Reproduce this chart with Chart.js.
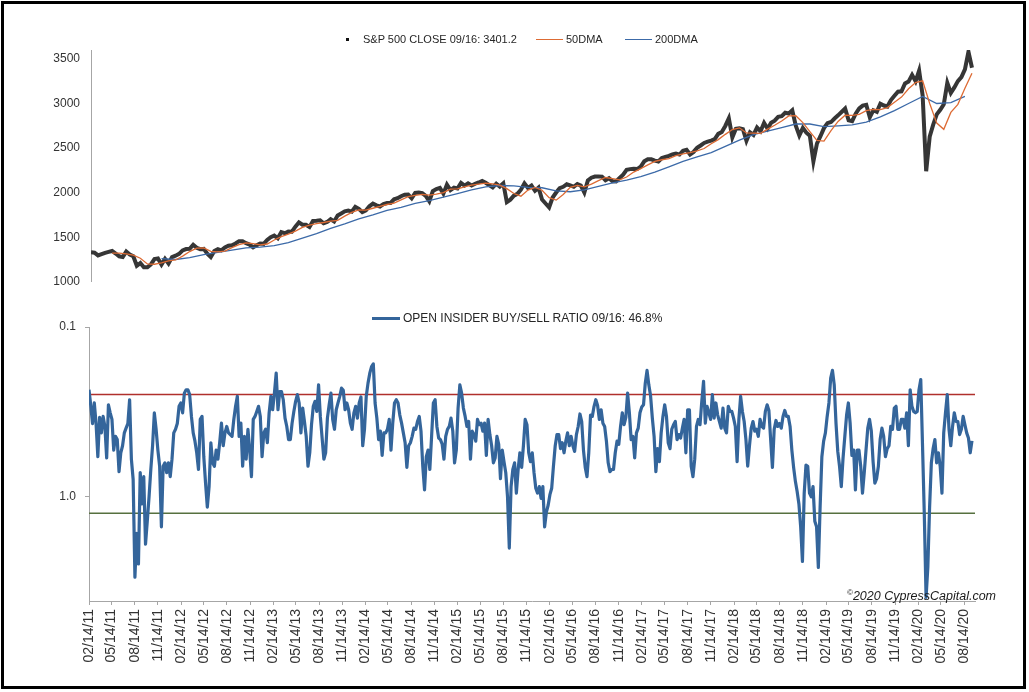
<!DOCTYPE html>
<html>
<head>
<meta charset="utf-8">
<script src="https://cdn.jsdelivr.net/npm/chart.js@4.4.0/dist/chart.umd.min.js"></script>
<style>
html,body{margin:0;padding:0;background:#fff;}
#wrap{position:relative;width:1029px;height:692px;overflow:hidden;background:#fff;font-family:"Liberation Sans",Arial,sans-serif;color:#262626;}
#frame{position:absolute;left:1px;top:1px;width:1019px;height:682px;border:3px solid #000;pointer-events:none;}
canvas{position:absolute;left:0;}
#cTop{top:0;}
#cBot{top:300px;}
.lg{position:absolute;white-space:nowrap;}
.t11{font-size:11px;line-height:13px;}
.t12{font-size:12px;line-height:14px;}
#copy{position:absolute;left:847px;top:589px;font-size:12.5px;font-style:italic;color:#1a1a1a;white-space:nowrap;}
#copy sup{font-size:8px;vertical-align:top;position:relative;top:-1px;}
</style>
</head>
<body>
<div id="wrap">
  <canvas id="cTop" width="1029" height="300"></canvas>
  <canvas id="cBot" width="1029" height="392"></canvas>

  <div class="lg" style="left:346px;top:38px;width:3px;height:2.5px;background:#111;"></div>
  <div class="lg t11" style="left:363px;top:32.5px;">S&amp;P 500 CLOSE 09/16: 3401.2</div>
  <div class="lg" style="left:536px;top:39px;width:27px;height:1.2px;background:#DD6B34;"></div>
  <div class="lg t11" style="left:566px;top:32.5px;">50DMA</div>
  <div class="lg" style="left:625px;top:39px;width:27px;height:1.2px;background:#3C6AA8;"></div>
  <div class="lg t11" style="left:655px;top:32.5px;">200DMA</div>

  <div class="lg" style="left:372px;top:316.5px;width:28px;height:3.2px;background:#34659B;"></div>
  <div class="lg t12" style="left:403px;top:311px;">OPEN INSIDER BUY/SELL RATIO 09/16: 46.8%</div>

  <div id="copy"><sup>©</sup>2020 CypressCapital.com</div>
  <div id="frame"></div>
</div>
<script>
// ---------- DATA ----------
const startDate = '02/14/11';          // first observation
const closeStepDays = 14;              // sampling of the S&P close readings
const fiftyStartDay = 84, fiftyStepDays = 28;
const twoHundredStartDay = 280, twoHundredStepDays = 56;
const insiderStepDays = 7;
const xAxisEndDay = 3512;

const spClose = [
 1332,1327,1296,1310,1324,1335,1346,1317,1286,1278,
 1339,1306,1287,1180,1210,1162,1162,1195,1254,1261,
 1193,1257,1205,1277,1293,1313,1352,1367,1371,1416,
 1382,1366,1369,1316,1278,1345,1365,1353,1385,1404,
 1410,1430,1456,1455,1433,1417,1386,1409,1430,1426,
 1470,1500,1518,1488,1557,1545,1563,1562,1618,1667,
 1640,1639,1614,1682,1685,1689,1656,1671,1701,1676,
 1744,1767,1791,1800,1786,1841,1819,1781,1800,1847,
 1877,1857,1845,1871,1884,1885,1925,1937,1960,1977,
 1978,1936,1997,2001,1994,1964,1904,2017,2041,2053,
 1989,2090,2028,2057,2046,2110,2079,2104,2080,2100,
 2114,2130,2111,2084,2058,2100,2068,2104,1893,1921,
 1966,1987,2033,2104,2053,2080,2021,2056,1923,1878,
 1835,1945,2001,2051,2066,2094,2081,2066,2097,2079,
 2001,2137,2168,2181,2182,2180,2139,2161,2127,2126,
 2165,2202,2256,2264,2269,2265,2293,2351,2375,2374,
 2359,2349,2388,2402,2412,2429,2439,2427,2470,2481,
 2428,2457,2503,2529,2557,2572,2584,2601,2659,2680,
 2748,2833,2619,2716,2721,2712,2582,2677,2648,2730,
 2689,2782,2717,2784,2807,2850,2857,2896,2888,2924,
 2750,2641,2726,2673,2637,2351,2550,2633,2724,2780,
 2792,2832,2867,2905,2943,2812,2802,2886,2945,2976,
 2985,2845,2924,2906,2997,2977,2966,3039,3087,3133,
 3136,3224,3246,3321,3249,3370,3090,2240,2627,2762,
 2878,2930,2992,3232,3118,3180,3251,3295,3382,3580,3401
];

const dma50 = [
 1322,1322,1313,1299,1264,1200,1197,1213,1234,1245,
 1288,1339,1378,1381,1342,1335,1345,1383,1417,1437,
 1429,1415,1424,
 1469,1507,1534,1569,1610,1636,1652,1665,1680,1690,
 1736,1778,1807,1805,1825,1845,1867,1882,1918,1955,
 1970,1981,1972,1984,2001,
 2040,2042,2064,2084,2095,2107,2099,2084,2045,1990,
 1960,2029,2058,2027,1943,1916,1980,2059,2081,2065,
 2096,2134,2170,2158,2144,
 2175,2231,2269,2311,2350,2369,2382,2414,2435,2449,
 2468,2495,2549,2595,2654,2708,2727,2670,2668,2665,
 2713,2756,2803,2860,2863,
 2786,2685,2587,2579,2696,2799,2868,2866,2878,2919,
 2935,2931,2954,3013,3072,3165,3235,3255,3000,2780,
 2710,2900,2990,3170,3340
];

const dma200 = [
 1260,1250,1270,1305,1330,1355,1380,1390,1405,1440,
 1490,1540,1600,1650,1705,1750,1800,1835,1880,1910,
 1950,1990,2030,2065,2080,2075,2060,2055,2020,2010,
 2030,2070,2110,2140,2180,2230,2290,2350,2400,2450,
 2520,2590,2650,2690,2730,2770,2770,2740,2750,2760,
 2790,2850,2920,3000,3080,3000,3010,3080
];

const insiderRatio = [
 0.234,0.29,0.37,0.28,0.37,0.58,0.34,0.42,0.336,0.385,
 0.59,0.287,0.32,0.35,0.53,0.44,0.46,0.71,0.55,0.50,
 0.42,0.394,0.37,0.268,0.60,0.79,2.97,1.64,2.48,0.72,
 1.10,0.76,1.9,1.39,1.0,0.69,0.50,0.32,0.40,0.53,
 0.66,1.5,0.66,0.63,0.72,0.63,0.76,0.60,0.42,0.40,
 0.37,0.293,0.28,0.32,0.245,0.234,0.234,0.25,0.336,0.42,
 0.47,0.55,0.69,0.35,0.336,0.58,0.83,1.15,0.87,0.48,
 0.63,0.66,0.53,0.60,0.48,0.368,0.50,0.42,0.385,0.42,
 0.43,0.44,0.35,0.293,0.256,0.44,0.368,0.66,0.44,0.60,
 0.40,0.53,0.76,0.35,0.336,0.314,0.293,0.336,0.58,0.42,
 0.40,0.48,0.32,0.256,0.307,0.245,0.187,0.307,0.24,0.24,
 0.268,0.344,0.385,0.46,0.46,0.368,0.314,0.274,0.25,0.28,
 0.42,0.30,0.36,0.44,0.66,0.55,0.376,0.293,0.274,0.314,
 0.219,0.336,0.45,0.60,0.55,0.344,0.287,0.245,0.35,0.40,
 0.307,0.28,0.256,0.229,0.236,0.307,0.28,0.307,0.368,0.40,
 0.32,0.293,0.344,0.28,0.258,0.50,0.40,0.256,0.214,0.187,
 0.171,0.165,0.28,0.344,0.46,0.41,0.57,0.42,0.42,0.40,
 0.35,0.53,0.368,0.28,0.268,0.28,0.33,0.368,0.42,0.48,
 0.67,0.50,0.48,0.44,0.394,0.40,0.36,0.336,0.41,0.66,
 0.91,0.58,0.53,0.69,0.44,0.28,0.268,0.385,0.45,0.46,
 0.49,0.60,0.44,0.40,0.385,0.344,0.41,0.63,0.53,0.30,
 0.219,0.245,0.30,0.336,0.385,0.36,0.60,0.41,0.43,0.47,
 0.35,0.376,0.368,0.41,0.368,0.57,0.35,0.43,0.50,0.63,
 0.59,0.44,0.49,0.78,0.53,0.62,0.72,1.0,2.0,0.87,
 0.69,0.63,0.95,0.69,0.55,0.67,0.50,0.35,0.376,0.55,
 0.62,0.55,0.72,0.89,0.95,0.87,1.02,0.87,1.50,1.23,
 1.12,0.97,0.89,0.66,0.50,0.43,0.43,0.52,0.48,0.55,
 0.47,0.42,0.50,0.44,0.50,0.54,0.43,0.385,0.325,0.36,
 0.53,0.67,0.76,0.55,0.33,0.336,0.293,0.268,0.29,0.35,
 0.307,0.368,0.385,0.47,0.63,0.71,0.69,0.69,0.55,0.47,
 0.49,0.385,0.32,0.376,0.34,0.245,0.32,0.46,0.44,0.59,
 0.42,0.394,0.32,0.296,0.287,0.214,0.18,0.219,0.254,0.344,
 0.44,0.71,0.52,0.62,0.42,0.336,0.287,0.336,0.48,0.52,
 0.40,0.376,0.36,0.46,0.43,0.45,0.394,0.35,0.55,0.307,
 0.307,0.66,0.76,0.60,0.385,0.35,0.376,0.274,0.209,0.368,
 0.293,0.32,0.35,0.25,0.344,0.28,0.33,0.36,0.394,0.30,
 0.394,0.42,0.293,0.314,0.314,0.344,0.385,0.62,0.35,0.256,
 0.314,0.36,0.46,0.66,0.50,0.394,0.36,0.41,0.40,0.44,
 0.35,0.385,0.394,0.314,0.287,0.31,0.46,0.67,0.40,0.355,
 0.385,0.37,0.394,0.336,0.31,0.336,0.336,0.385,0.53,0.67,
 0.81,0.93,1.10,1.50,2.4,0.95,0.65,0.66,0.95,1.0,
 0.87,1.39,1.50,2.6,1.15,0.58,0.47,0.42,0.336,0.28,
 0.20,0.18,0.219,0.368,0.54,0.66,0.87,0.59,0.44,0.33,
 0.28,0.368,0.57,0.53,0.91,0.53,0.53,0.66,0.95,0.72,
 0.53,0.394,0.35,0.41,0.62,0.83,0.78,0.66,0.46,0.394,
 0.44,0.58,0.52,0.50,0.385,0.40,0.30,0.293,0.40,0.40,
 0.35,0.35,0.394,0.32,0.50,0.234,0.293,0.314,0.32,0.314,
 0.234,0.204,0.50,1.26,3.9,2.6,1.15,0.63,0.52,0.46,
 0.63,0.55,0.66,0.95,0.42,0.32,0.25,0.40,0.50,0.385,
 0.32,0.36,0.36,0.43,0.40,0.336,0.376,0.42,0.45,0.55,0.468
];

const upperBand = 0.25;   // red reference line
const lowerBand = 1.25;   // green reference line

const topYTicks = [1000,1500,2000,2500,3000,3500];
const topYMin = 1000, topYMax = 3600;
const botYTicks = [0.1, 1.0];
const botYMin = 0.1, botYMax = 4.1;

const xTickLabels = [
 '02/14/11','05/14/11','08/14/11','11/14/11',
 '02/14/12','05/14/12','08/14/12','11/14/12',
 '02/14/13','05/14/13','08/14/13','11/14/13',
 '02/14/14','05/14/14','08/14/14','11/14/14',
 '02/14/15','05/14/15','08/14/15','11/14/15',
 '02/14/16','05/14/16','08/14/16','11/14/16',
 '02/14/17','05/14/17','08/14/17','11/14/17',
 '02/14/18','05/14/18','08/14/18','11/14/18',
 '02/14/19','05/14/19','08/14/19','11/14/19',
 '02/14/20','05/14/20','08/14/20'
];

// ---------- HELPERS ----------
function utcOf(label){ const [m,d,y] = label.split('/').map(Number); return Date.UTC(2000+y, m-1, d); }
const start = utcOf(startDate);
function dayOf(label){ return Math.round((utcOf(label) - start) / 86400000); }
const tickDays = xTickLabels.map(dayOf);
function pts(firstDay, step, vals){ return vals.map((v,k) => ({x: firstDay + k*step, y: v})); }

Chart.defaults.font.family = '"Liberation Sans", Arial, sans-serif';
Chart.defaults.color = '#333';

const axisGray = '#a6a6a6';

// ---------- TOP CHART ----------
new Chart(document.getElementById('cTop'), {
  type: 'line',
  data: { datasets: [
    { label:'50DMA', data: pts(fiftyStartDay, fiftyStepDays, dma50), borderColor:'#DD6B34', borderWidth:1.3, pointRadius:0, order:1 },
    { label:'200DMA', data: pts(twoHundredStartDay, twoHundredStepDays, dma200), borderColor:'#3C6AA8', borderWidth:1.3, pointRadius:0, order:1 },
    { label:'S&P 500 CLOSE', data: pts(0, closeStepDays, spClose), borderColor:'#363636', borderWidth:4, pointRadius:0, order:2 }
  ]},
  options: {
    responsive:false, animation:false, devicePixelRatio:1, events:[],
    layout:{ padding:{ left:0, right:54, top:50, bottom:12 } },
    plugins:{ legend:{display:false}, tooltip:{enabled:false} },
    scales:{
      x:{ type:'linear', min:0, max:xAxisEndDay, display:false },
      y:{ type:'linear', min:topYMin, max:topYMax,
          afterFit: s => { s.width = 91; },
          afterBuildTicks: s => { s.ticks = topYTicks.map(v => ({value:v})); },
          ticks:{ padding:11, font:{size:12}, color:'#333', callback: v => String(v) },
          grid:{ display:false, drawTicks:false, tickLength:0 },
          border:{ display:true, color:axisGray, width:1 } }
    }
  }
});

// ---------- BOTTOM CHART ----------
new Chart(document.getElementById('cBot'), {
  type: 'line',
  data: { datasets: [
    { label:'OPEN INSIDER BUY/SELL RATIO', data: pts(0, insiderStepDays, insiderRatio), borderColor:'#34659B', borderWidth:3.2, pointRadius:0, order:0, borderJoinStyle:'round' },
    { label:'upper', data: [{x:0,y:upperBand},{x:xAxisEndDay,y:upperBand}], borderColor:'#B0302C', borderWidth:1.5, pointRadius:0, order:1 },
    { label:'lower', data: [{x:0,y:lowerBand},{x:xAxisEndDay,y:lowerBand}], borderColor:'#56703F', borderWidth:1.5, pointRadius:0, order:1 }
  ]},
  options: {
    responsive:false, animation:false, devicePixelRatio:1, events:[],
    layout:{ padding:{ left:0, right:54, top:27, bottom:0 } },
    plugins:{ legend:{display:false}, tooltip:{enabled:false} },
    scales:{
      x:{ type:'linear', min:0, max:xAxisEndDay,
          afterFit: s => { s.height = 91; },
          afterBuildTicks: s => { s.ticks = tickDays.map(v => ({value:v})); },
          ticks:{ autoSkip:false, minRotation:90, maxRotation:90, padding:4, font:{size:14}, color:'#333',
                  callback: (v, i) => xTickLabels[i] },
          grid:{ drawOnChartArea:false, drawTicks:true, tickLength:4, color:axisGray },
          border:{ display:true, color:axisGray, width:1 } },
      y:{ type:'logarithmic', reverse:true, min:botYMin, max:botYMax,
          afterFit: s => { s.width = 89; },
          afterBuildTicks: s => { s.ticks = botYTicks.map(v => ({value:v})); },
          ticks:{ padding:9, font:{size:12}, color:'#333', callback: v => Number(v).toFixed(1) },
          grid:{ drawOnChartArea:false, drawTicks:true, tickLength:4, color:axisGray },
          border:{ display:true, color:axisGray, width:1 } }
    }
  }
});
</script>
</body>
</html>
